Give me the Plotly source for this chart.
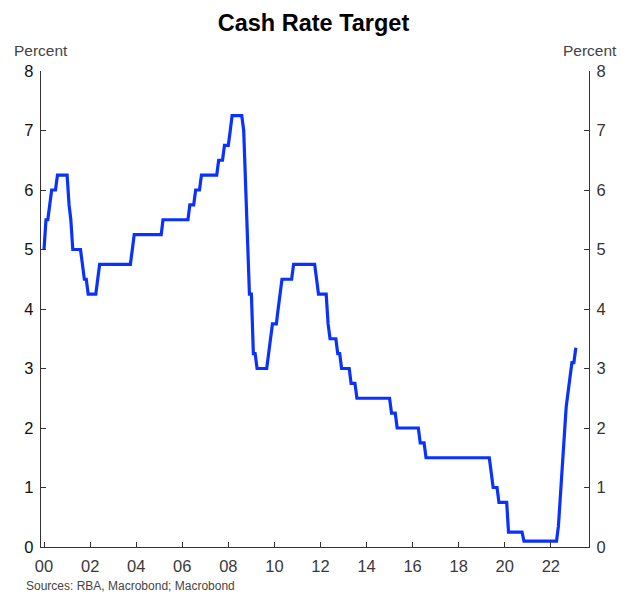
import plotly.graph_objects as go

# Monthly RBA cash rate target (end of month), Jan 2000 - Feb 2023
rates_by_year = {
    2000: [5.0, 5.5, 5.5, 5.75, 6.0, 6.0, 6.0, 6.25, 6.25, 6.25, 6.25, 6.25],
    2001: [6.25, 5.75, 5.5, 5.0, 5.0, 5.0, 5.0, 5.0, 4.75, 4.5, 4.5, 4.25],
    2002: [4.25, 4.25, 4.25, 4.25, 4.5, 4.75, 4.75, 4.75, 4.75, 4.75, 4.75, 4.75],
    2003: [4.75, 4.75, 4.75, 4.75, 4.75, 4.75, 4.75, 4.75, 4.75, 4.75, 5.0, 5.25],
    2004: [5.25, 5.25, 5.25, 5.25, 5.25, 5.25, 5.25, 5.25, 5.25, 5.25, 5.25, 5.25],
    2005: [5.25, 5.25, 5.5, 5.5, 5.5, 5.5, 5.5, 5.5, 5.5, 5.5, 5.5, 5.5],
    2006: [5.5, 5.5, 5.5, 5.5, 5.75, 5.75, 5.75, 6.0, 6.0, 6.0, 6.25, 6.25],
    2007: [6.25, 6.25, 6.25, 6.25, 6.25, 6.25, 6.25, 6.5, 6.5, 6.5, 6.75, 6.75],
    2008: [6.75, 7.0, 7.25, 7.25, 7.25, 7.25, 7.25, 7.25, 7.0, 6.0, 5.25, 4.25],
    2009: [4.25, 3.25, 3.25, 3.0, 3.0, 3.0, 3.0, 3.0, 3.0, 3.25, 3.5, 3.75],
    2010: [3.75, 3.75, 4.0, 4.25, 4.5, 4.5, 4.5, 4.5, 4.5, 4.5, 4.75, 4.75],
    2011: [4.75, 4.75, 4.75, 4.75, 4.75, 4.75, 4.75, 4.75, 4.75, 4.75, 4.5, 4.25],
    2012: [4.25, 4.25, 4.25, 4.25, 3.75, 3.5, 3.5, 3.5, 3.5, 3.25, 3.25, 3.0],
    2013: [3.0, 3.0, 3.0, 3.0, 2.75, 2.75, 2.75, 2.5, 2.5, 2.5, 2.5, 2.5],
    2014: [2.5, 2.5, 2.5, 2.5, 2.5, 2.5, 2.5, 2.5, 2.5, 2.5, 2.5, 2.5],
    2015: [2.5, 2.25, 2.25, 2.25, 2.0, 2.0, 2.0, 2.0, 2.0, 2.0, 2.0, 2.0],
    2016: [2.0, 2.0, 2.0, 2.0, 1.75, 1.75, 1.75, 1.5, 1.5, 1.5, 1.5, 1.5],
    2017: [1.5, 1.5, 1.5, 1.5, 1.5, 1.5, 1.5, 1.5, 1.5, 1.5, 1.5, 1.5],
    2018: [1.5, 1.5, 1.5, 1.5, 1.5, 1.5, 1.5, 1.5, 1.5, 1.5, 1.5, 1.5],
    2019: [1.5, 1.5, 1.5, 1.5, 1.5, 1.25, 1.0, 1.0, 1.0, 0.75, 0.75, 0.75],
    2020: [0.75, 0.75, 0.25, 0.25, 0.25, 0.25, 0.25, 0.25, 0.25, 0.25, 0.1, 0.1],
    2021: [0.1, 0.1, 0.1, 0.1, 0.1, 0.1, 0.1, 0.1, 0.1, 0.1, 0.1, 0.1],
    2022: [0.1, 0.1, 0.1, 0.1, 0.35, 0.85, 1.35, 1.85, 2.35, 2.6, 2.85, 3.1],
    2023: [3.1, 3.35],
}

dates = []
rates = []
for yr, vals in rates_by_year.items():
    for m, v in enumerate(vals, start=1):
        dates.append(f"{yr}-{m:02d}-01")
        rates.append(v)

x_tick_vals = [f"{y}-01-01" for y in range(2000, 2023, 2)]
x_tick_text = ["00", "02", "04", "06", "08", "10", "12", "14", "16", "18", "20", "22"]
y_ticks = [0, 1, 2, 3, 4, 5, 6, 7, 8]

FONT = "Liberation Sans, Arial, sans-serif"
LINE_BLUE = "#0A32FF"
AXIS_COL = "#333333"

fig = go.Figure()
fig.add_trace(go.Scatter(x=dates, y=rates, mode="lines",
                         line=dict(color=LINE_BLUE, width=3.2),
                         showlegend=False, hoverinfo="x+y"))
fig.add_trace(go.Scatter(x=dates, y=rates, mode="lines", yaxis="y2",
                         line=dict(color="rgba(0,0,0,0)", width=0),
                         showlegend=False, hoverinfo="skip"))

axis_common = dict(showgrid=False, zeroline=False, showline=True,
                   linecolor=AXIS_COL, linewidth=1.3, ticks="inside",
                   ticklen=5, tickwidth=1.2, tickcolor=AXIS_COL,
                   automargin=False)

fig.update_layout(
    width=627, height=594,
    margin=dict(l=41, r=38, t=71, b=47, autoexpand=False),
    paper_bgcolor="white", plot_bgcolor="white",
    title=dict(text="<b>Cash Rate Target</b>", x=0.5, xanchor="center",
               y=1 - 23 / 594, yanchor="middle",
               font=dict(family=FONT, size=23.5, color="black")),
    xaxis=dict(type="date", range=["1999-11-14", "2023-08-29"],
               tickvals=x_tick_vals, ticktext=x_tick_text,
               ticklabelstandoff=4,
               tickfont=dict(family=FONT, size=16.5, color="#3a3a3a"),
               **axis_common),
    yaxis=dict(range=[0, 8], tickvals=y_ticks, ticklabelstandoff=3,
               tickfont=dict(family=FONT, size=16.5, color="#111111"),
               **axis_common),
    yaxis2=dict(range=[0, 8], tickvals=y_ticks, overlaying="y", side="right",
                ticklabelstandoff=3,
                tickfont=dict(family=FONT, size=16.5, color="#333333"),
                **axis_common),
    annotations=[
        dict(text="Percent", xref="paper", yref="paper", x=0, y=1,
             xshift=0, yshift=21, xanchor="center", yanchor="middle",
             showarrow=False, font=dict(family=FONT, size=15.5, color="#444444")),
        dict(text="Percent", xref="paper", yref="paper", x=1, y=1,
             xshift=1, yshift=21, xanchor="center", yanchor="middle",
             showarrow=False, font=dict(family=FONT, size=15.5, color="#444444")),
        dict(text="Sources: RBA, Macrobond; Macrobond", xref="paper", yref="paper",
             x=0, y=0, xshift=-17, yshift=-39, xanchor="left", yanchor="middle",
             showarrow=False, font=dict(family=FONT, size=12, color="#444444")),
    ],
)

fig.write_html("out.html", config={"displayModeBar": False},
               post_script="document.body.style.margin='0';document.body.style.overflow='hidden';")
